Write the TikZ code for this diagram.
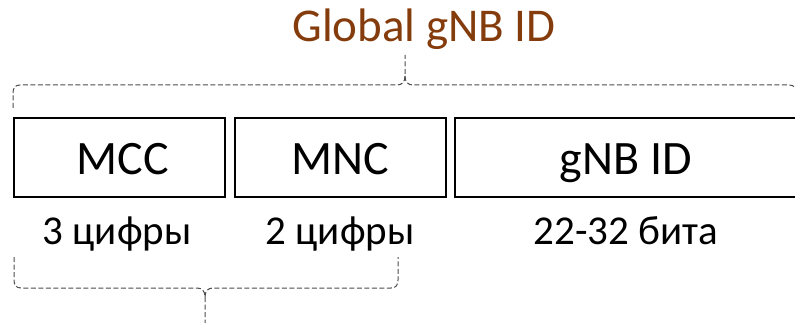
\documentclass[tikz,border=0pt]{standalone}
\usepackage{fontspec}
\setmainfont{Carlito}
\definecolor{titlebrown}{RGB}{132,60,12}
\tikzset{
  field/.style={draw=black, line width=2pt, minimum height=79pt, inner sep=0pt},
  fieldlabel/.style={font=\fontsize{48}{54}\selectfont, anchor=base, inner sep=0pt},
  sublabel/.style={font=\fontsize{41}{46}\selectfont, anchor=base, inner sep=0pt},
  bracepath/.style={draw=black!70, line width=1pt, dash pattern=on 5pt off 2.5pt},
}
\begin{document}
\begin{tikzpicture}[x=1pt,y=-1pt]
\useasboundingbox (0,0) rectangle (795,323);
\clip (0,0) rectangle (795,323);
% boxes
\node[field, minimum width=211pt, anchor=north west] (mcc) at (13,117) {};
\node[field, minimum width=211pt, anchor=north west] (mnc) at (234,117) {};
\node[field, minimum width=344pt, anchor=north west] (gnb) at (454,117) {};
% labels in boxes
\node[fieldlabel] (mcct) at (123,175) {MCC};
\node[fieldlabel] (mnct) at (340,175) {MNC};
\node[fieldlabel] (gnbt) at (626,175) {gNB ID};
% sub labels
\node[sublabel] (mccs) at (117,244) {3 цифры};
\node[sublabel] (mncs) at (340,244) {2 цифры};
\node[sublabel] (gnbs) at (626,244) {22-32 бита};
% title
\node[font=\fontsize{47}{52}\selectfont, text=titlebrown, anchor=base, inner sep=0pt] (title) at (424,42) {Global gNB ID};
% top brace
\coordinate (tl) at (13,108);
\coordinate (ttip) at (405,55);
\coordinate (tr) at (797,108);
\draw[bracepath] (tl) -- (13,93) .. controls (13,88) and (15,85) .. (20,85)
  -- (397,85) .. controls (402,85) and (405,82) .. (405,76) -- (ttip);
\draw[bracepath] (405,76) .. controls (405,82) and (408,85) .. (413,85)
  -- (789,85) .. controls (794,85) and (797,88) .. (797,93) -- (tr);
% bottom brace
\coordinate (bl) at (14,257);
\coordinate (btip) at (205,323);
\coordinate (br) at (398,257);
\draw[bracepath] (bl) -- (14,280) .. controls (14,285) and (16,288) .. (21,288)
  -- (197,288) .. controls (202,288) and (205,291) .. (205,297) -- (btip);
\draw[bracepath] (205,297) .. controls (205,291) and (208,288) .. (213,288)
  -- (391,288) .. controls (396,288) and (398,285) .. (398,280) -- (br);
\end{tikzpicture}
\end{document}
